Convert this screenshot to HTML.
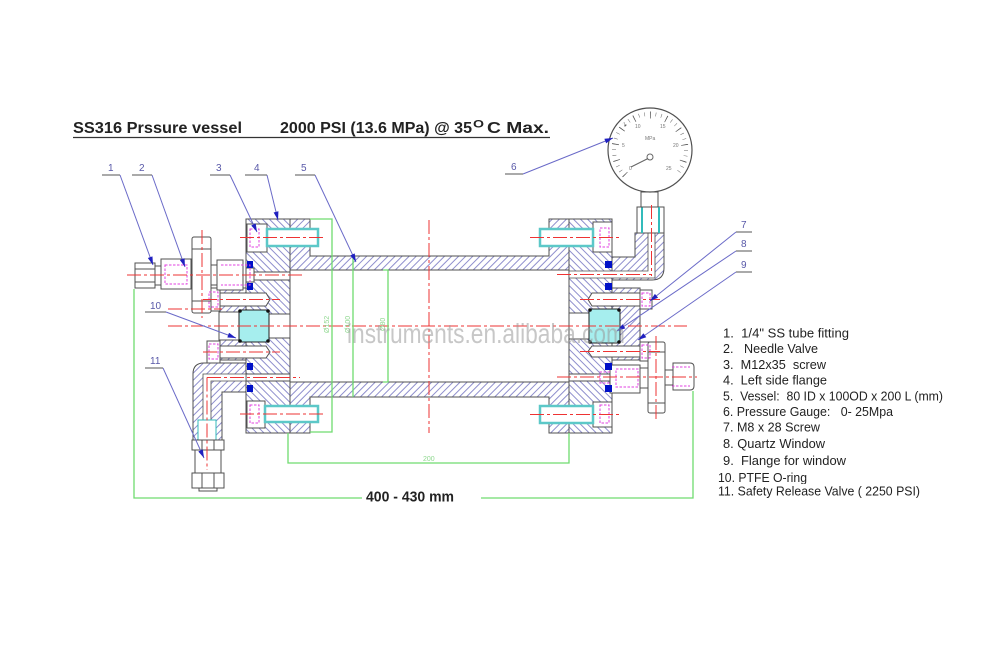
<!DOCTYPE html>
<html><head><meta charset="utf-8"><style>
html,body{margin:0;padding:0;background:#fff;}
svg{display:block;}
text{font-family:"Liberation Sans",Arial,sans-serif;}
.lg{font-size:13px;fill:#222;white-space:pre;}
.nm{font-size:10px;fill:#5858a8;}
</style></head><body>
<svg width="1000" height="667" viewBox="0 0 1000 667" xmlns="http://www.w3.org/2000/svg">
<defs>
<pattern id="hA" patternUnits="userSpaceOnUse" width="5" height="5" patternTransform="rotate(45)">
<rect width="5" height="5" fill="#fff"/><line x1="0.5" y1="0" x2="0.5" y2="5" stroke="#8282c8" stroke-width="0.9"/></pattern>
<pattern id="hB" patternUnits="userSpaceOnUse" width="5" height="5" patternTransform="rotate(-45)">
<rect width="5" height="5" fill="#fff"/><line x1="0.5" y1="0" x2="0.5" y2="5" stroke="#8282c8" stroke-width="0.9"/></pattern>
<marker id="ar" viewBox="0 0 10 6" refX="10" refY="3" markerWidth="9" markerHeight="5" orient="auto" markerUnits="userSpaceOnUse"><path d="M0,0L10,3L0,6z" fill="#2020c0"/></marker>
</defs>

<!-- Title -->
<text x="73" y="133" font-size="15.5" font-weight="bold" fill="#222" textLength="169" lengthAdjust="spacingAndGlyphs">SS316 Prssure vessel</text>
<text x="280" y="133" font-size="15.5" font-weight="bold" fill="#222" textLength="192" lengthAdjust="spacingAndGlyphs">2000 PSI (13.6 MPa) @ 35</text>
<text x="473" y="127.5" font-size="11" font-weight="bold" fill="#222" textLength="11" lengthAdjust="spacingAndGlyphs">O</text>
<text x="487" y="133" font-size="15.5" font-weight="bold" fill="#222" textLength="62" lengthAdjust="spacingAndGlyphs">C Max.</text>
<line x1="73" y1="137.5" x2="550" y2="137.5" stroke="#333" stroke-width="1.3"/>

<g stroke="#505050" stroke-width="1">
<!-- vessel -->
<path d="M290,219H310V256H549V219H569V270H290Z" fill="url(#hA)"/>
<path d="M290,382H569V433H549V397H310V433H290Z" fill="url(#hA)"/>
<!-- flanges -->
<rect x="246" y="219" width="44" height="214" fill="url(#hB)"/>
<rect x="569" y="219" width="43" height="214" fill="url(#hB)"/>

<!-- left bolts -->
<rect x="247" y="224" width="20" height="28" fill="#fff"/>
<rect x="267" y="229" width="51" height="17" fill="#fff" stroke="#5cc8c8" stroke-width="2.5"/>
<rect x="247" y="401" width="18" height="27" fill="#fff"/>
<rect x="265" y="406" width="53" height="16" fill="#fff" stroke="#5cc8c8" stroke-width="2.5"/>
<!-- right bolts -->
<rect x="593" y="222" width="19" height="30" fill="#fff"/>
<rect x="540" y="229" width="53" height="17" fill="#fff" stroke="#5cc8c8" stroke-width="2.5"/>
<rect x="593" y="402" width="19" height="25" fill="#fff"/>
<rect x="540" y="406" width="53" height="17" fill="#fff" stroke="#5cc8c8" stroke-width="2.5"/>

<!-- left ports -->
<rect x="246" y="268" width="8" height="14" fill="#fff"/>
<rect x="254" y="272" width="36" height="8" fill="#fff"/>
<rect x="246" y="374" width="44" height="7" fill="#fff"/>

<!-- left window flange & window -->
<rect x="219" y="288" width="27" height="72" fill="url(#hA)"/>
<rect x="219" y="312" width="20" height="28" fill="#fff"/>
<rect x="269" y="314" width="21" height="24" fill="#fff"/>
<rect x="239" y="310" width="30" height="32" rx="2" fill="#a6eeee" stroke="#222"/>
<!-- left M8 screws -->
<path d="M219,293H266L270,299.5L266,306H219Z" fill="#fff"/>
<rect x="207" y="288" width="13" height="23" fill="#fff"/>
<path d="M219,346H266L270,352L266,358H219Z" fill="#fff"/>
<rect x="207" y="341" width="13" height="22" fill="#fff"/>

<!-- elbow + safety valve -->
<path d="M246,363H204Q193,363 193,374V440H222V392H246Z" fill="url(#hA)"/>
<path d="M246,374H203V420H211V381H246Z" fill="#fff" stroke-width="0.8"/>
<rect x="198" y="420" width="18" height="20" fill="#fff" stroke="#3bb"/>
<rect x="192" y="440" width="32" height="10" fill="#fff"/>
<line x1="202" y1="440" x2="202" y2="450"/><line x1="214" y1="440" x2="214" y2="450"/>
<rect x="195" y="450" width="26" height="23" fill="#fff"/>
<rect x="192" y="473" width="32" height="15" fill="#fff"/>
<line x1="202" y1="473" x2="202" y2="488"/><line x1="214" y1="473" x2="214" y2="488"/>
<rect x="199" y="488" width="18" height="3" fill="#fff"/>

<!-- needle valve & fitting -->
<rect x="135" y="263" width="20" height="25" fill="#fff"/>
<line x1="135" y1="269" x2="155" y2="269"/><line x1="135" y1="282" x2="155" y2="282"/>
<rect x="155" y="266" width="6" height="19" fill="#fff"/>
<rect x="161" y="259" width="30" height="30" fill="#fff"/>
<rect x="192" y="237" width="19" height="76" rx="2" fill="#fff"/>
<line x1="192" y1="249" x2="211" y2="249"/><line x1="192" y1="301" x2="211" y2="301"/>
<rect x="211" y="265" width="6" height="20" fill="#fff"/>
<rect x="217" y="260" width="26" height="30" fill="#fff"/>

<!-- right window flange & window -->
<rect x="612" y="288" width="28" height="72" fill="url(#hA)"/>
<rect x="569" y="313" width="20" height="26" fill="#fff"/>
<rect x="589" y="309" width="31" height="34" rx="2" fill="#a6eeee" stroke="#222"/>
<path d="M640,293H592L588,299.5L592,306H640Z" fill="#fff"/>
<rect x="640" y="290" width="12" height="19" fill="#fff"/>
<path d="M640,346H592L588,351.5L592,357H640Z" fill="#fff"/>
<rect x="640" y="342" width="12" height="19" fill="#fff"/>

<!-- right port & valve -->
<rect x="569" y="374" width="41" height="7" fill="#fff"/>
<rect x="610" y="365" width="30" height="28" fill="#fff"/>
<rect x="640" y="368" width="8" height="20" fill="#fff"/>
<rect x="648" y="342" width="17" height="71" rx="2" fill="#fff"/>
<line x1="648" y1="352" x2="665" y2="352"/><line x1="648" y1="403" x2="665" y2="403"/>
<rect x="665" y="370" width="8" height="15" fill="#fff"/>
<path d="M673,363H690Q694,363 694,367V386Q694,390 690,390H673Z" fill="#fff"/>

<!-- gauge elbow -->
<path d="M635,233H664V268Q664,280 652,280H612V257H635Z" fill="url(#hA)"/>
<path d="M569,271H648V233H655V278H569Z" fill="#fff" stroke-width="0.8"/>
<rect x="637" y="207" width="27" height="26" fill="#fff"/>
<line x1="642" y1="207" x2="642" y2="233" stroke="#3bb" stroke-width="2"/>
<line x1="659" y1="207" x2="659" y2="233" stroke="#3bb" stroke-width="2"/>
<rect x="641" y="192" width="17" height="15" fill="#fff"/>
<circle cx="650" cy="150" r="42" fill="#fff" stroke-width="1.2"/>
</g>

<!-- gauge ticks -->
<path d="M624.54,175.46A36,36 0 1 1 675.46,175.46" fill="none" stroke="#666" stroke-width="4" pathLength="270" stroke-dasharray="0.8 8.2"/>
<path d="M625.25,174.75A35,35 0 1 1 674.75,174.75" fill="none" stroke="#555" stroke-width="7" pathLength="270" stroke-dasharray="1.2 25.8"/>
<g font-size="5" fill="#777">
<text x="629" y="170">0</text><text x="622" y="147">5</text><text x="635" y="128">10</text><text x="660" y="128">15</text><text x="673" y="147">20</text><text x="666" y="170">25</text>
<text x="645" y="140">MPa</text>
</g>
<circle cx="650" cy="157" r="3" fill="none" stroke="#666"/>
<line x1="648" y1="158.5" x2="631" y2="167" stroke="#666" stroke-width="1.2"/>

<!-- O-rings -->
<g fill="#0010c8">
<rect x="247" y="261" width="6" height="7"/><rect x="247" y="283" width="6" height="7"/>
<rect x="247" y="363" width="6" height="7"/><rect x="247" y="385" width="6" height="7"/>
<rect x="605" y="261" width="7" height="7"/><rect x="605" y="283" width="7" height="7"/>
<rect x="605" y="363" width="7" height="7"/><rect x="605" y="385" width="7" height="7"/>
</g>
<!-- window corner dots -->
<g fill="#111">
<circle cx="240" cy="311" r="1.8"/><circle cx="268" cy="311" r="1.8"/><circle cx="240" cy="341" r="1.8"/><circle cx="268" cy="341" r="1.8"/>
<circle cx="590" cy="310" r="1.8"/><circle cx="619" cy="310" r="1.8"/><circle cx="590" cy="342" r="1.8"/><circle cx="619" cy="342" r="1.8"/>
</g>

<!-- magenta hidden lines -->
<g fill="none" stroke="#e040e0" stroke-width="1" stroke-dasharray="2.5 1.5">
<rect x="250" y="229" width="9" height="18"/>
<rect x="250" y="405" width="9" height="18"/>
<rect x="600" y="228" width="9" height="19"/>
<rect x="600" y="405" width="9" height="18"/>
<rect x="209" y="292" width="9" height="15"/>
<rect x="209" y="344" width="9" height="15"/>
<rect x="642" y="293" width="8" height="13"/>
<rect x="642" y="345" width="8" height="13"/>
<rect x="165" y="265" width="22" height="19"/>
<path d="M221,265H250V285H221"/>
<rect x="616" y="369" width="22" height="18"/>
<path d="M610,372H600V383H610"/>
<path d="M672,367H690M672,386H690"/>
</g>

<!-- red center lines -->
<g stroke="#e33" stroke-width="1" fill="none" stroke-dasharray="14 3 3 3">
<line x1="168" y1="326" x2="687" y2="326"/>
<line x1="429" y1="220" x2="429" y2="433"/>
<line x1="127" y1="275" x2="303" y2="275"/>
<line x1="202" y1="230" x2="202" y2="318"/>
<line x1="240" y1="237.5" x2="326" y2="237.5"/>
<line x1="240" y1="414" x2="326" y2="414"/>
<line x1="530" y1="237.5" x2="620" y2="237.5"/>
<line x1="530" y1="414.5" x2="620" y2="414.5"/>
<line x1="203" y1="299.5" x2="280" y2="299.5"/>
<line x1="203" y1="352" x2="280" y2="352"/>
<line x1="580" y1="299.5" x2="660" y2="299.5"/>
<line x1="580" y1="351.5" x2="660" y2="351.5"/>
<line x1="207" y1="377.5" x2="300" y2="377.5"/>
<line x1="207" y1="377.5" x2="207" y2="470"/>
<line x1="557" y1="274.5" x2="651.5" y2="274.5"/>
<line x1="651.5" y1="205" x2="651.5" y2="276"/>
<line x1="557" y1="377" x2="697" y2="377"/>
<line x1="656" y1="336" x2="656" y2="420"/>
<line x1="168" y1="309" x2="222" y2="309"/>
</g>

<!-- green dimensions -->
<g stroke="#6fdc6f" stroke-width="1.3" fill="none">
<path d="M134,289V498H362"/>
<path d="M481,498H693V391"/>
<path d="M288,433V463H569V433"/>
<path d="M310,219H332V432H310"/>
<line x1="353" y1="256" x2="353" y2="397"/>
<path d="M383,270H388V382H383"/>
</g>
<g fill="#8fd88f" font-size="7">
<text x="423" y="461">200</text>
<text transform="translate(329,333) rotate(-90)">Ø152</text>
<text transform="translate(350,333) rotate(-90)">Ø100</text>
<text transform="translate(385,331) rotate(-90)">Ø80</text>
</g>
<text x="366" y="501.5" font-size="15" font-weight="bold" fill="#222" textLength="88" lengthAdjust="spacingAndGlyphs">400 - 430 mm</text>

<!-- leaders -->
<g stroke="#6a6ac8" stroke-width="1" fill="none">
<line x1="120" y1="175" x2="153" y2="265" marker-end="url(#ar)"/>
<line x1="152" y1="175" x2="185" y2="267" marker-end="url(#ar)"/>
<line x1="230" y1="175" x2="257" y2="232" marker-end="url(#ar)"/>
<line x1="267" y1="175" x2="278" y2="220" marker-end="url(#ar)"/>
<line x1="315" y1="175" x2="356" y2="262" marker-end="url(#ar)"/>
<line x1="523" y1="174" x2="613" y2="138" marker-end="url(#ar)"/>
<line x1="736" y1="232" x2="650" y2="301" marker-end="url(#ar)"/>
<line x1="736" y1="251" x2="617" y2="331" marker-end="url(#ar)"/>
<line x1="736" y1="272" x2="638" y2="340" marker-end="url(#ar)"/>
<line x1="166" y1="312" x2="236" y2="338" marker-end="url(#ar)"/>
<line x1="163" y1="368" x2="204" y2="458" marker-end="url(#ar)"/>
</g>
<g stroke="#555" stroke-width="1">
<line x1="102" y1="175" x2="120" y2="175"/>
<line x1="132" y1="175" x2="152" y2="175"/>
<line x1="210" y1="175" x2="230" y2="175"/>
<line x1="245" y1="175" x2="267" y2="175"/>
<line x1="295" y1="175" x2="315" y2="175"/>
<line x1="505" y1="174" x2="523" y2="174"/>
<line x1="736" y1="232" x2="752" y2="232"/>
<line x1="736" y1="251" x2="752" y2="251"/>
<line x1="736" y1="272" x2="752" y2="272"/>
<line x1="145" y1="312" x2="166" y2="312"/>
<line x1="145" y1="368" x2="163" y2="368"/>
</g>
<g class="nm">
<text x="108" y="171">1</text>
<text x="139" y="171">2</text>
<text x="216" y="171">3</text>
<text x="254" y="171">4</text>
<text x="301" y="171">5</text>
<text x="511" y="170">6</text>
<text x="741" y="228">7</text>
<text x="741" y="247">8</text>
<text x="741" y="268">9</text>
<text x="150" y="309">10</text>
<text x="150" y="364">11</text>
</g>

<!-- watermark -->
<text x="347" y="343" font-size="28" fill="#9a9a9a" opacity="0.55" textLength="278" lengthAdjust="spacingAndGlyphs">instruments.en.alibaba.com</text>

<!-- legend -->
<text class="lg" x="723" y="337.5" textLength="126" lengthAdjust="spacingAndGlyphs">1.  1/4&quot; SS tube fitting</text>
<text class="lg" x="723" y="353" textLength="95" lengthAdjust="spacingAndGlyphs">2.   Needle Valve</text>
<text class="lg" x="723" y="369" textLength="103" lengthAdjust="spacingAndGlyphs">3.  M12x35  screw</text>
<text class="lg" x="723" y="384.5" textLength="104" lengthAdjust="spacingAndGlyphs">4.  Left side flange</text>
<text class="lg" x="723" y="400.5" textLength="220" lengthAdjust="spacingAndGlyphs">5.  Vessel:  80 ID x 100OD x 200 L (mm)</text>
<text class="lg" x="723" y="416" textLength="170" lengthAdjust="spacingAndGlyphs">6. Pressure Gauge:   0- 25Mpa</text>
<text class="lg" x="723" y="431.5" textLength="97" lengthAdjust="spacingAndGlyphs">7. M8 x 28 Screw</text>
<text class="lg" x="723" y="448" textLength="102" lengthAdjust="spacingAndGlyphs">8. Quartz Window</text>
<text class="lg" x="723" y="465" textLength="123" lengthAdjust="spacingAndGlyphs">9.  Flange for window</text>
<text class="lg" x="718" y="482" textLength="89" lengthAdjust="spacingAndGlyphs">10. PTFE O-ring</text>
<rect x="714" y="484" width="220" height="14" fill="#fff"/>
<text class="lg" x="718" y="495.5" textLength="202" lengthAdjust="spacingAndGlyphs">11. Safety Release Valve ( 2250 PSI)</text>
</svg>
</body></html>
